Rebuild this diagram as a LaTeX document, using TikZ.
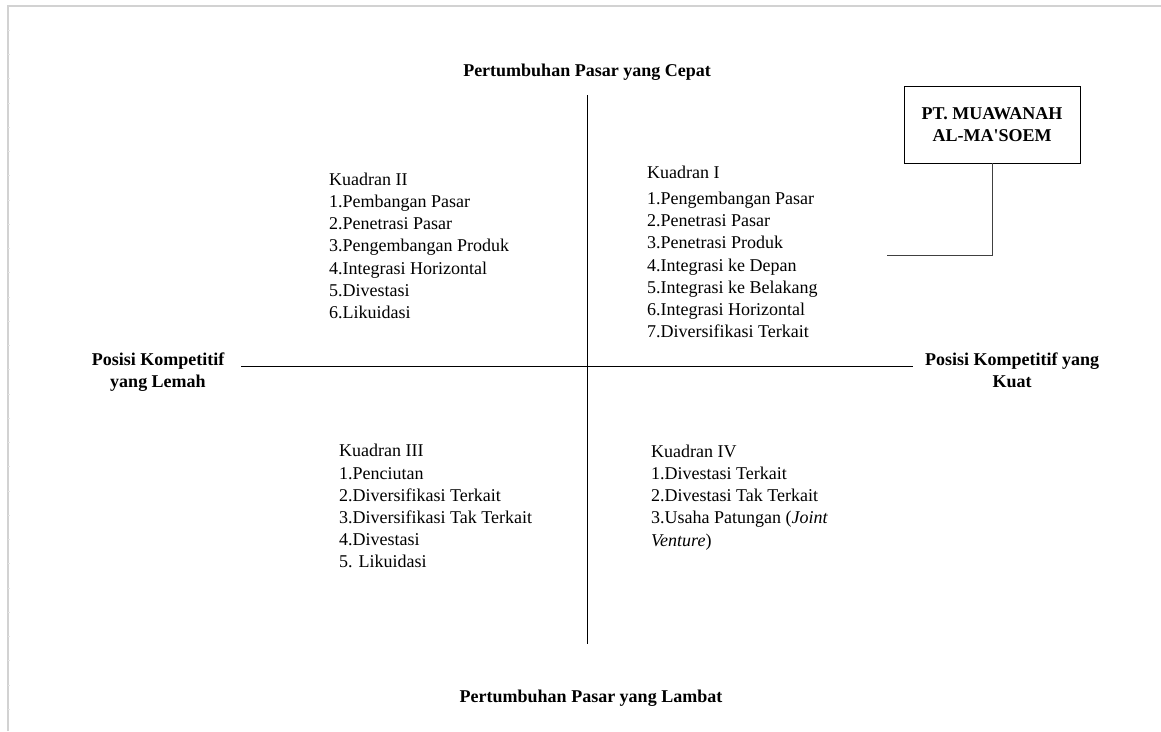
\documentclass[tikz,border=0pt]{standalone}
\usepackage{fontspec}
\setmainfont{Liberation Serif}
\usepackage{tikz}
\usetikzlibrary{calc,positioning}

\begin{document}
\begin{tikzpicture}[x=1pt,y=-1pt,
	kuadran/.style={anchor=north west,inner sep=0pt,align=left,font=\fontsize{18}{22.2}\selectfont},
	sumbu/.style={inner sep=0pt,align=center,font=\fontsize{18}{22}\selectfont\bfseries}]
	\useasboundingbox (0,0) rectangle (1161,731);
	\draw[color=gray!35,line width=1.3pt] (8,731) -- (8,6) -- (1161,6);
	\foreach \ty in {30,54.25,...,720}
		\draw[color=gray!20,line width=0.5pt] (8,\ty) -- (10,\ty);
	\coordinate (atas) at (587,95);
	\coordinate (bawah) at (587,644);
	\coordinate (kiri) at (241,366);
	\coordinate (kanan) at (913,366);
	\draw[line width=1pt] (atas) -- (bawah) (kiri) -- (kanan);
	\node[sumbu,anchor=base] (cepat) at (587,76) {Pertumbuhan Pasar yang Cepat};
	\node[sumbu,anchor=base] (lambat) at (591,702) {Pertumbuhan Pasar yang Lambat};
	\node[sumbu,anchor=north] (lemah) at (158,353) {Posisi Kompetitif\\yang Lemah};
	\node[sumbu,anchor=north] (kuat) at (1012,353) {Posisi Kompetitif yang\\Kuat};
	\node[sumbu,draw,line width=0.9pt,minimum width=176pt,minimum height=77pt] (pt) at (992,124.5)
		{PT. MUAWANAH\\AL-MA\textquotesingle SOEM};
	\coordinate (ujung) at (887,255);
	\draw[line width=0.9pt,color=black!75] (pt.south) |- (ujung);
	\foreach \koordinat/\nama/\isi in
	{{(647,166.2)}/k1/{Kuadran I\\[3.5pt]1.Pengembangan Pasar\\2.Penetrasi Pasar\\3.Penetrasi Produk\\4.Integrasi ke Depan\\5.Integrasi ke Belakang\\6.Integrasi Horizontal\\7.Diversifikasi Terkait},
	{(329,172.7)}/k2/{Kuadran II\\1.Pembangan Pasar\\2.Penetrasi Pasar\\3.Pengembangan Produk\\4.Integrasi Horizontal\\5.Divestasi\\6.Likuidasi},
	{(339,444.2)}/k3/{Kuadran III\\1.Penciutan\\2.Diversifikasi Terkait\\3.Diversifikasi Tak Terkait\\4.Divestasi\\5. Likuidasi},
	{(651,444.7)}/k4/{Kuadran IV\\1.Divestasi Terkait\\2.Divestasi Tak Terkait\\3.Usaha Patungan (\textit{Joint}\\\textit{Venture})}}
		{\node[kuadran] (\nama) at \koordinat {\isi};}
\end{tikzpicture}
\end{document}
